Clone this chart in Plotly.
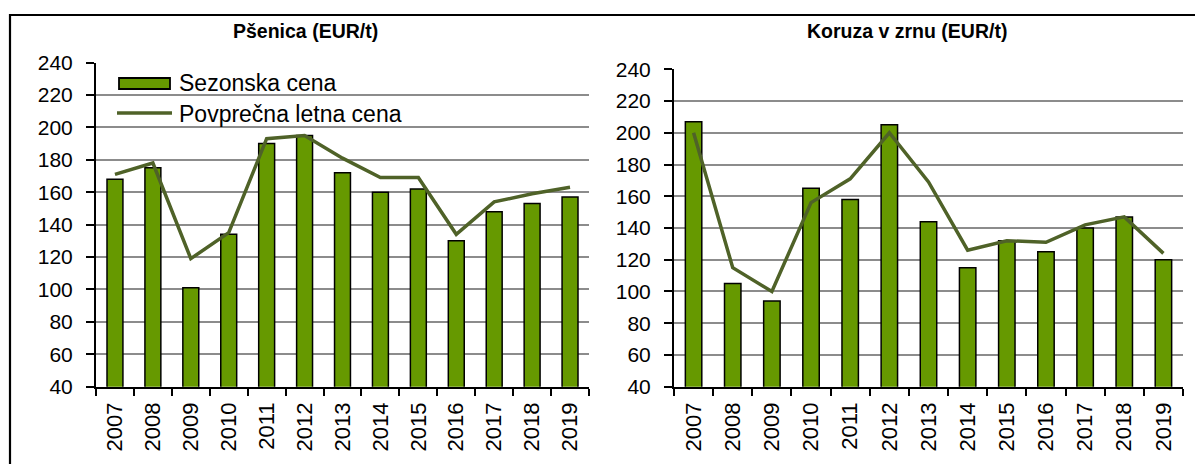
import plotly.graph_objects as go

years = [str(y) for y in range(2007, 2020)]
wheat_season = [168, 175, 101, 134, 190, 195, 172, 160, 162, 130, 148, 153, 157]
wheat_annual = [171, 178, 119, 135, 193, 195, 181, 169, 169, 134, 154, 159, 163]
maize_season = [207, 105, 94, 165, 158, 205, 144, 115, 132, 125, 140, 147, 120]
maize_annual = [200, 115, 100, 156, 171, 200, 169, 126, 132, 131, 142, 147, 124]
y_ticks = list(range(40, 241, 20))
series_names = ["Sezonska cena", "Povprečna letna cena"]
panel_titles = ["Pšenica (EUR/t)", "Koruza v zrnu (EUR/t)"]

W, H = 1195, 464
BAR = "#669900"
LINE = "#4F6228"
FONT = "Liberation Sans, Arial, sans-serif"

fig = go.Figure()
fig.add_trace(go.Bar(x=years, y=wheat_season, name=series_names[0], marker=dict(color=BAR, line=dict(color="black", width=1.5)),
                     width=0.42, xaxis="x", yaxis="y", showlegend=False))
fig.add_trace(go.Scatter(x=years, y=wheat_annual, name=series_names[1], mode="lines", line=dict(color=LINE, width=3.5),
                         xaxis="x", yaxis="y", showlegend=False))
fig.add_trace(go.Bar(x=years, y=maize_season, name=series_names[0], marker=dict(color=BAR, line=dict(color="black", width=1.5)),
                     width=0.42, xaxis="x2", yaxis="y2", showlegend=False))
fig.add_trace(go.Scatter(x=years, y=maize_annual, name=series_names[1], mode="lines", line=dict(color=LINE, width=3.5),
                         xaxis="x2", yaxis="y2", showlegend=False))

def px(v):
    return v / W

def py(v):
    return 1 - v / H

xcommon = dict(type="category", showline=True, linecolor="black", linewidth=2, ticks="outside", ticklen=7,
               tickwidth=1.5, tickcolor="black", tickson="boundaries", tickangle=-90, showgrid=False,
               tickfont=dict(family=FONT, size=22, color="black"), ticklabelstandoff=5, automargin=False)
ycommon = dict(range=[40, 240], tickvals=y_ticks, showline=True, linecolor="black", linewidth=2, ticks="outside",
               ticklen=8, tickwidth=1.5, tickcolor="black", showgrid=True, gridcolor="#8c8c8c", gridwidth=2,
               zeroline=False, tickfont=dict(family=FONT, size=21, color="black"), ticklabelstandoff=9,
               automargin=False)

# legend drawn as decoration (symbol shapes + text), in pixel-based paper coords
legend_shapes = [
    dict(type="rect", xref="paper", yref="paper", x0=px(119), x1=px(170), y0=py(89), y1=py(78),
         fillcolor=BAR, line=dict(color="black", width=1.8), layer="above"),
    dict(type="line", xref="paper", yref="paper", x0=px(117), x1=px(172), y0=py(113), y1=py(113),
         line=dict(color=LINE, width=3.5), layer="above"),
]
legend_texts = [
    dict(text=series_names[0], x=px(177), y=py(83), xref="paper", yref="paper", showarrow=False,
         xanchor="left", yanchor="middle", font=dict(family=FONT, size=23, color="black")),
    dict(text=series_names[1], x=px(177), y=py(114), xref="paper", yref="paper", showarrow=False,
         xanchor="left", yanchor="middle", font=dict(family=FONT, size=23, color="black")),
]

fig.update_layout(
    width=W, height=H, autosize=False,
    margin=dict(l=0, r=0, t=0, b=0, pad=0),
    paper_bgcolor="white", plot_bgcolor="white",
    font=dict(family=FONT, color="black"),
    showlegend=False,
    xaxis=dict(domain=[px(96), px(589)], anchor="y", **xcommon),
    yaxis=dict(domain=[py(386.7), py(62.5)], anchor="x", **ycommon),
    xaxis2=dict(domain=[px(674), px(1183)], anchor="y2", **xcommon),
    yaxis2=dict(domain=[py(386.7), py(69.3)], anchor="x2", **ycommon),
    shapes=[dict(type="rect", xref="paper", yref="paper", x0=px(10), x1=1.05, y0=-0.05, y1=py(15),
                 line=dict(color="black", width=2.2), fillcolor="rgba(0,0,0,0)", layer="above")] + legend_shapes,
    annotations=[
        dict(text="<b>" + panel_titles[0] + "</b>", x=px(305), y=py(31), xref="paper", yref="paper", showarrow=False,
             xanchor="center", yanchor="middle", font=dict(family=FONT, size=19.5, color="black")),
        dict(text="<b>" + panel_titles[1] + "</b>", x=px(907), y=py(31), xref="paper", yref="paper", showarrow=False,
             xanchor="center", yanchor="middle", font=dict(family=FONT, size=19.5, color="black")),
    ] + legend_texts,
)

fig.write_html("out.html", config={"displayModeBar": False},
               post_script="document.body.style.margin='0';document.body.style.padding='0';")
